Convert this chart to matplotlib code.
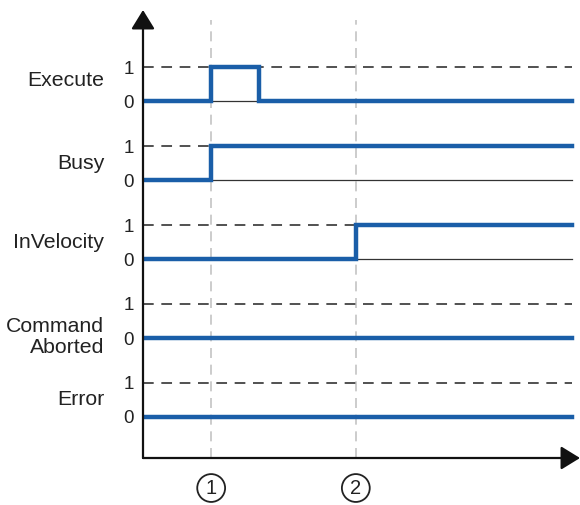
import matplotlib as mpl
import matplotlib.pyplot as plt
import matplotlib.transforms as mtransforms

mpl.rcParams['font.family'] = ['Liberation Sans', 'DejaVu Sans']

# signal names, top to bottom
signals = ['Execute', 'Busy', 'InVelocity', 'Command\nAborted', 'Error']

# time points (arbitrary units, axis runs 0..100)
t_start = 0
t1 = 15.6          # marker 1
t_exec_off = 26.5  # Execute drops again
t2 = 48.7          # marker 2
t_end = 98.2

# step signals as (times, levels)
sig_times = [
    [t_start, t1, t_exec_off, t_end],
    [t_start, t1, t_end],
    [t_start, t2, t_end],
    [t_start, t_end],
    [t_start, t_end],
]
sig_levels = [
    [0, 1, 0, 0],
    [0, 1, 1],
    [0, 1, 1],
    [0, 0],
    [0, 0],
]
markers = [t1, t2]
marker_labels = ['1', '2']

spacing = 2.32
blue = '#1a5ea8'

dpi = 100
fig = plt.figure(dpi=dpi, figsize=(580 / dpi, 505 / dpi))
ax = fig.add_axes([143 / 580, 1 - 458 / 505, 437 / 580, 448 / 505])
ax.set_xlim(0, 100)
ax.set_ylim(-1.206, 11.96)
for s in ax.spines.values():
    s.set_visible(False)
ax.set_xticks([])

n = len(signals)
ticks = []
ticklabels = []
label_dy = [0.12, 0.0, 0.0, -0.47, 0.0]
lab_tr = mtransforms.blended_transform_factory(ax.transAxes, ax.transData)
for i, name in enumerate(signals):
    base = (n - 1 - i) * spacing
    ts = sig_times[i]
    lv = sig_levels[i]
    # reference lines for 0 and 1
    ax.plot([0, t_end], [base + 1, base + 1], color='#222222', lw=1.1,
            dashes=(7, 5), zorder=1)
    ax.plot([0, t_end], [base, base], color='#333333', lw=0.9, zorder=1)
    ax.step(ts, [base + v for v in lv], where='post', color=blue, lw=3.2,
            solid_joinstyle='miter', zorder=3)
    ticks += [base, base + 1]
    ticklabels += ['0', '1']
    ax.text(-0.089, base + 0.5 + label_dy[i], name, transform=lab_tr,
            ha='right', va='center', fontsize=15.3, color='#222222',
            multialignment='right', linespacing=1.15)

ax.set_yticks(ticks)
ax.set_yticklabels(ticklabels, fontsize=13.5, color='#222222')
ax.tick_params(axis='y', length=0, pad=6.5)

# vertical marker lines and circled numbers
mk_tr = mtransforms.blended_transform_factory(ax.transData, ax.transAxes)
for t, lab in zip(markers, marker_labels):
    ax.plot([t, t], [-1.206, 11.67], color='#c4c4c4', lw=1.2, dashes=(6, 4),
            zorder=0)
    ax.text(t, -0.067, lab, transform=mk_tr, ha='center', va='center',
            fontsize=14.5, color='#222222', clip_on=False,
            bbox=dict(boxstyle='circle,pad=0.22', fc='white', ec='#222222', lw=1.3))

# axes with arrows
ax.annotate('', xy=(1.0, 0), xytext=(0, 0), xycoords='axes fraction',
            arrowprops=dict(arrowstyle='-|>,head_width=0.4,head_length=0.65',
                            mutation_scale=18, lw=1.6, color='#111111',
                            shrinkA=0, shrinkB=0))
ax.annotate('', xy=(0, 1.0), xytext=(0, 0), xycoords='axes fraction',
            arrowprops=dict(arrowstyle='-|>,head_width=0.4,head_length=0.65',
                            mutation_scale=18, lw=1.6, color='#111111',
                            shrinkA=0, shrinkB=0))

fig.savefig('out.png', dpi=dpi)
